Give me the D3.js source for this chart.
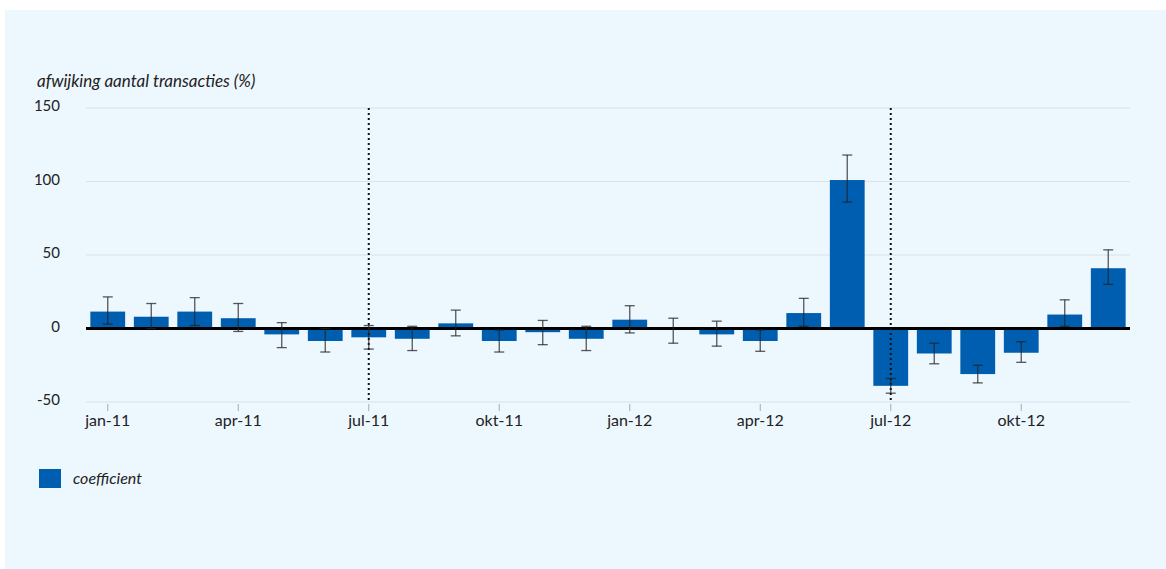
<!DOCTYPE html>
<html>
<head>
<meta charset="utf-8">
<script src="https://cdn.jsdelivr.net/npm/d3@7"></script>
<style>
  body { margin: 0; background: #fff; }
  text { font-family: Lato, "Open Sans", sans-serif; }
</style>
</head>
<body>
<div id="chart"></div>
<script>
const width = 1166;
const height = 569;

// data
const months = ["jan-11","feb-11","mrt-11","apr-11","mei-11","jun-11","jul-11","aug-11","sep-11","okt-11","nov-11","dec-11",
                "jan-12","feb-12","mrt-12","apr-12","mei-12","jun-12","jul-12","aug-12","sep-12","okt-12","nov-12","dec-12"];
const coefficient = [11.5, 8, 11.5, 7, -4, -8.5, -6, -7, 3.5, -8.5, -2.5, -7,
                     6, -0.5, -4, -8.5, 10.5, 101, -39, -17, -31, -16.5, 9.5, 41];
const errLow  = [3, 0, 2, -2, -13, -16, -14, -15, -5, -16, -11, -15,
                 -3, -10, -12, -15.5, 1.5, 86, -44, -24, -37, -23, 1.5, 30];
const errHigh = [21.5, 17, 21, 17, 4, 0, 2, 1.5, 12.5, -1, 5.5, 1.5,
                 15.5, 7, 5, -1, 20.5, 118, -34, -10, -25, -9, 19.5, 53.5];
const yTicks = [-50, 0, 50, 100, 150];
const quarterLabels = ["jan-11","apr-11","jul-11","okt-11","jan-12","apr-12","jul-12","okt-12"];
const markerMonths = ["jul-11","jul-12"];

const margin = { left: 86, right: 36, top: 108, bottom: 167 };

const svg = d3.select("#chart").append("svg").attr("width", width).attr("height", height);

// panel background
svg.append("rect")
    .attr("x", 5).attr("y", 10)
    .attr("width", width - 5).attr("height", height - 10)
    .attr("fill", "#edf7fe");

const x = d3.scaleBand()
    .domain(months)
    .range([margin.left, width - margin.right])
    .paddingInner(0.2)
    .paddingOuter(0.1);

const y = d3.scaleLinear()
    .domain([-50, 150])
    .range([402, 108]);

// gridlines
svg.selectAll("line.grid")
    .data(yTicks)
    .join("line")
    .attr("class", "grid")
    .attr("x1", margin.left)
    .attr("x2", width - margin.right)
    .attr("y1", d => y(d))
    .attr("y2", d => y(d))
    .style("stroke", "#d9e2ea")
    .style("stroke-width", 1.2);

// y labels
svg.selectAll("text.ylab")
    .data(yTicks)
    .join("text")
    .attr("class", "ylab")
    .attr("x", 60)
    .attr("y", d => y(d))
    .attr("dy", "0.2em")
    .attr("text-anchor", "end")
    .style("font-size", "15px")
    .style("fill", "#222")
    .text(d => d);

// title
svg.append("text")
    .attr("x", 37)
    .attr("y", 87)
    .style("font-size", "17px")
    .style("font-style", "italic")
    .style("fill", "#222")
    .text("afwijking aantal transacties (%)");

// x ticks + labels
const xc = d => x(d) + x.bandwidth() / 2;
svg.selectAll("line.xtick")
    .data(quarterLabels)
    .join("line")
    .attr("class", "xtick")
    .attr("x1", xc).attr("x2", xc)
    .attr("y1", y(-50) + 2).attr("y2", y(-50) + 9)
    .style("stroke", "#aaa");

svg.selectAll("text.xlab")
    .data(quarterLabels)
    .join("text")
    .attr("class", "xlab")
    .attr("x", xc)
    .attr("y", 426)
    .attr("text-anchor", "middle")
    .style("font-size", "16px")
    .style("fill", "#222")
    .text(d => d);

// bars
svg.selectAll("rect.bar")
    .data(months)
    .join("rect")
    .attr("class", "bar")
    .attr("x", d => x(d))
    .attr("width", x.bandwidth())
    .attr("y", (d, i) => y(Math.max(0, coefficient[i])))
    .attr("height", (d, i) => Math.abs(y(coefficient[i]) - y(0)))
    .attr("fill", "#005eb0");

// zero line
svg.append("line")
    .attr("x1", margin.left)
    .attr("x2", width - margin.right)
    .attr("y1", y(0)).attr("y2", y(0))
    .style("stroke", "#000")
    .style("stroke-width", 3);

// dotted markers
svg.selectAll("line.marker")
    .data(markerMonths)
    .join("line")
    .attr("class", "marker")
    .attr("x1", xc).attr("x2", xc)
    .attr("y1", y(150)).attr("y2", y(-50))
    .style("stroke", "#111")
    .style("stroke-width", 2)
    .style("stroke-dasharray", "2,3");

// error bars
const err = svg.selectAll("g.err")
    .data(months)
    .join("g")
    .attr("class", "err")
    .style("stroke", "#222")
    .style("stroke-opacity", 0.75)
    .style("stroke-width", 1.3);

err.append("line")
    .attr("x1", xc).attr("x2", xc)
    .attr("y1", (d, i) => y(errLow[i]))
    .attr("y2", (d, i) => y(errHigh[i]));
err.append("line")
    .attr("x1", d => xc(d) - 5).attr("x2", d => xc(d) + 5)
    .attr("y1", (d, i) => y(errHigh[i]))
    .attr("y2", (d, i) => y(errHigh[i]));
err.append("line")
    .attr("x1", d => xc(d) - 5).attr("x2", d => xc(d) + 5)
    .attr("y1", (d, i) => y(errLow[i]))
    .attr("y2", (d, i) => y(errLow[i]));

// legend
svg.append("rect")
    .attr("x", 39).attr("y", 469)
    .attr("width", 22).attr("height", 19)
    .attr("fill", "#005eb0");
svg.append("text")
    .attr("x", 73).attr("y", 484)
    .style("font-size", "16px")
    .style("font-style", "italic")
    .style("fill", "#222")
    .text("coefficient");
</script>
</body>
</html>
